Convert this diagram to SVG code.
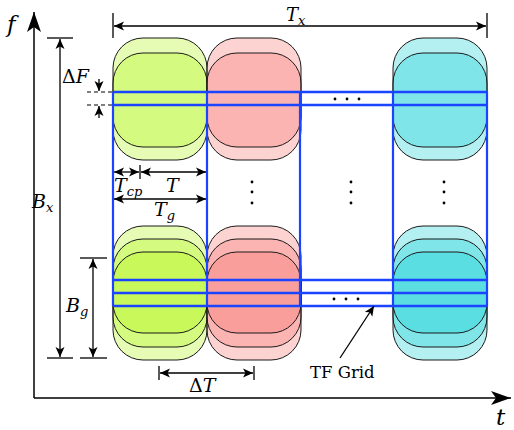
<svg xmlns="http://www.w3.org/2000/svg" width="514" height="430" viewBox="0 0 514 430">
<style>
.lbl{font-family:"DejaVu Serif",serif;font-style:italic;font-size:19px;fill:#000}
.sub{font-size:13px}
.up{font-family:"DejaVu Serif",serif;font-size:16.5px;fill:#000}
.blob{stroke:#1a1a1a;stroke-width:1}
.g{fill:rgb(172,245,5);fill-opacity:0.3}
.r{fill:rgb(250,110,105);fill-opacity:0.3}
.c{fill:rgb(5,205,212);fill-opacity:0.3}
.grid{stroke:#1a44ff;stroke-width:2.6;fill:none}
.vgrid{stroke:#1a44ff;stroke-width:2.2;fill:none}
.dim{stroke:#000;stroke-width:1.3;fill:none}
.tick{stroke:#000;stroke-width:1.3}
.dash{stroke:#000;stroke-width:1.2;stroke-dasharray:4 3}
.axis{stroke:#000;stroke-width:1.5;fill:none}
</style>
<defs>
<marker id="a" markerUnits="userSpaceOnUse" markerWidth="11" markerHeight="9" refX="10" refY="4.5" orient="auto-start-reverse" overflow="visible">
<path d="M0,0 L10,4.5 L0,9 L2.5,4.5 z" fill="#000"/>
</marker>
<marker id="ab" markerUnits="userSpaceOnUse" markerWidth="22" markerHeight="14" refX="20" refY="7" orient="auto" overflow="visible">
<path d="M0,0 L20,7 L0,14 L5,7 z" fill="#000"/>
</marker>
</defs>

<g id="node-r1c1">
<rect class="blob g" x="113" y="38" width="94" height="122" rx="30" ry="30"/>
<rect class="blob g" x="113" y="53" width="94" height="94" rx="30" ry="30"/>
</g>
<g id="node-r1c2">
<rect class="blob r" x="207" y="38" width="94" height="122" rx="30" ry="30"/>
<rect class="blob r" x="207" y="53" width="94" height="94" rx="30" ry="30"/>
</g>
<g id="node-r1c3">
<rect class="blob c" x="393" y="38" width="94" height="122" rx="30" ry="30"/>
<rect class="blob c" x="393" y="53" width="94" height="94" rx="30" ry="30"/>
</g>
<g id="node-r2c1">
<rect class="blob g" x="113" y="226" width="94" height="134" rx="30" ry="30"/>
<rect class="blob g" x="113" y="239" width="94" height="108" rx="30" ry="30"/>
<rect class="blob g" x="113" y="252" width="94" height="81" rx="30" ry="30"/>
</g>
<g id="node-r2c2">
<rect class="blob r" x="207" y="226" width="94" height="134" rx="30" ry="30"/>
<rect class="blob r" x="207" y="239" width="94" height="108" rx="30" ry="30"/>
<rect class="blob r" x="207" y="252" width="94" height="81" rx="30" ry="30"/>
</g>
<g id="node-r2c3">
<rect class="blob c" x="393" y="226" width="94" height="134" rx="30" ry="30"/>
<rect class="blob c" x="393" y="239" width="94" height="108" rx="30" ry="30"/>
<rect class="blob c" x="393" y="252" width="94" height="81" rx="30" ry="30"/>
</g>

<g id="connectors">
<g id="grid">
<line class="vgrid" x1="113" y1="92" x2="113" y2="306"/>
<line class="vgrid" x1="207" y1="92" x2="207" y2="306"/>
<line class="vgrid" x1="300" y1="92" x2="300" y2="306"/>
<line class="vgrid" x1="393" y1="92" x2="393" y2="306"/>
<line class="vgrid" x1="487" y1="92" x2="487" y2="306"/>
<line class="grid" x1="113" y1="92" x2="487" y2="92"/>
<line class="grid" x1="113" y1="105" x2="487" y2="105"/>
<line class="grid" x1="113" y1="280" x2="487" y2="280"/>
<line class="grid" x1="113" y1="293" x2="487" y2="293"/>
<line class="grid" x1="113" y1="306" x2="487" y2="306"/>
</g>
<path class="axis" d="M34,398 L34,12" marker-end="url(#ab)"/>
<path class="axis" d="M34,398 L511,398" marker-end="url(#ab)"/>
<line class="tick" x1="113" y1="13" x2="113" y2="38"/>
<line class="tick" x1="487" y1="13" x2="487" y2="38"/>
<line class="dim" x1="114" y1="26" x2="486" y2="26" marker-start="url(#a)" marker-end="url(#a)"/>
<line class="tick" x1="47" y1="38" x2="73" y2="38"/>
<line class="tick" x1="47" y1="358" x2="73" y2="358"/>
<line class="dim" x1="60" y1="39" x2="60" y2="357" marker-start="url(#a)" marker-end="url(#a)"/>
<line class="tick" x1="80" y1="258" x2="107" y2="258"/>
<line class="tick" x1="80" y1="358" x2="107" y2="358"/>
<line class="dim" x1="93" y1="259" x2="93" y2="357" marker-start="url(#a)" marker-end="url(#a)"/>
<line class="dash" x1="87" y1="92" x2="112" y2="92"/>
<line class="dash" x1="87" y1="105" x2="112" y2="105"/>
<line class="dim" x1="99" y1="79" x2="99" y2="91" marker-end="url(#a)"/>
<line class="dim" x1="99" y1="118" x2="99" y2="106" marker-end="url(#a)"/>
<line class="tick" x1="140" y1="165" x2="140" y2="179"/>
<line class="dim" x1="114" y1="172" x2="139" y2="172" marker-start="url(#a)" marker-end="url(#a)"/>
<line class="dim" x1="141" y1="172" x2="206" y2="172" marker-start="url(#a)" marker-end="url(#a)"/>
<line class="dim" x1="114" y1="199" x2="206" y2="199" marker-start="url(#a)" marker-end="url(#a)"/>
<line class="tick" x1="159" y1="366" x2="159" y2="380"/>
<line class="tick" x1="254" y1="366" x2="254" y2="380"/>
<line class="dim" x1="160" y1="373" x2="253" y2="373" marker-start="url(#a)" marker-end="url(#a)"/>
<line class="dim" x1="340" y1="358" x2="374" y2="306" marker-end="url(#a)"/>
</g>

<g id="dots" fill="#000">
<circle cx="335" cy="99" r="1.4"/><circle cx="347" cy="99" r="1.4"/><circle cx="359" cy="99" r="1.4"/>
<circle cx="334" cy="299" r="1.4"/><circle cx="346" cy="299" r="1.4"/><circle cx="358" cy="299" r="1.4"/>
<circle cx="252" cy="182" r="1.4"/><circle cx="252" cy="192" r="1.4"/><circle cx="252" cy="203" r="1.4"/>
<circle cx="351" cy="182" r="1.4"/><circle cx="351" cy="192" r="1.4"/><circle cx="351" cy="203" r="1.4"/>
<circle cx="444" cy="182" r="1.4"/><circle cx="444" cy="192" r="1.4"/><circle cx="444" cy="203" r="1.4"/>
</g>

<g id="labels">
<text class="lbl" x="7" y="32" style="font-size:23px">f</text>
<text class="lbl" x="496" y="425" style="font-size:23px">t</text>
<text class="lbl" x="286" y="21" style="font-size:18px">T<tspan class="sub" dy="4">x</tspan></text>
<text class="lbl" x="32" y="208">B<tspan class="sub" dy="4">x</tspan></text>
<text class="lbl" x="66" y="312">B<tspan class="sub" dy="4">g</tspan></text>
<text class="lbl" x="62" y="83"><tspan style="font-style:normal">Δ</tspan>F</text>
<text class="lbl" x="114" y="192">T<tspan class="sub" dy="4">cp</tspan></text>
<text class="lbl" x="166" y="192">T</text>
<text class="lbl" x="154" y="216">T<tspan class="sub" dy="4">g</tspan></text>
<text class="lbl" x="189" y="392"><tspan style="font-style:normal">Δ</tspan>T</text>
<text class="up" x="310" y="378">TF Grid</text>
</g>
</svg>
